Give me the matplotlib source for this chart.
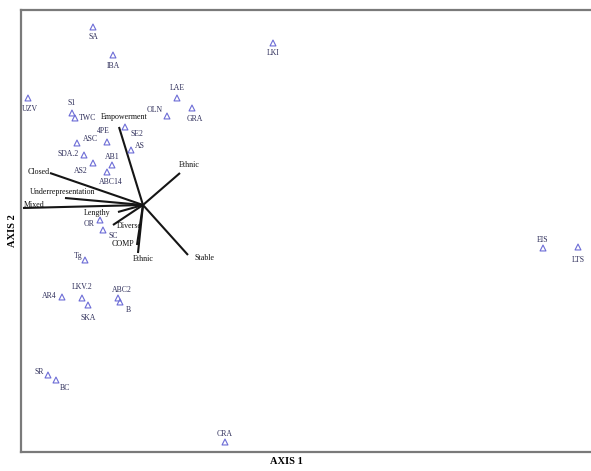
import matplotlib
matplotlib.use("Agg")
import matplotlib.pyplot as plt

plt.rcParams['font.family'] = ['Liberation Serif', 'DejaVu Serif']

# Site scores (axis 1, axis 2)
site_labels = ["SA", "IBA", "LKI", "LAE", "UZV", "S1", "TWC", "OLN", "GRA",
               "SE2", "4PE", "ASC", "AS", "SDA.2", "AB1", "AS2", "ABC14",
               "Tg", "OR", "SC", "AR4", "LKV.2", "SKA", "ABC2", "B",
               "SR", "BC", "CRA", "EIS", "LTS"]
site_x = [-0.50, -0.30, 1.30, 0.34, -1.15, -0.71, -0.68, 0.24, 0.49,
          -0.18, -0.36, -0.66, -0.12, -0.59, -0.31, -0.50, -0.36,
          -0.58, -0.43, -0.40, -0.81, -0.61, -0.55, -0.25, -0.23,
          -0.95, -0.87, 0.82, 4.00, 4.35]
site_y = [1.78, 1.50, 1.62, 1.07, 1.07, 0.92, 0.87, 0.89, 0.97,
          0.78, 0.63, 0.62, 0.55, 0.50, 0.40, 0.42, 0.33,
          -0.55, -0.15, -0.25, -0.92, -0.93, -1.00, -0.93, -0.97,
          -1.70, -1.75, -2.37, -0.43, -0.42]

# Environmental variable vectors (biplot arrows from the origin)
var_labels = ["Empowerment", "Ethnic", "Closed", "Underrepresentation", "Mixed",
              "Lengthy", "Diverse", "COMP", "Ethnic", "Stable"]
var_x = [-0.24, 0.37, -0.93, -0.78, -1.20, -0.25, -0.30, -0.06, -0.05, 0.45]
var_y = [0.78, 0.32, 0.32, 0.07, -0.03, -0.07, -0.20, -0.40, -0.48, -0.50]

# label placement (offset in points, horizontal alignment)
site_offsets = {
    "SA": (0, -7, "center"), "IBA": (0, -8, "center"), "LKI": (0, -7, "center"),
    "LAE": (0, 7, "center"), "UZV": (1, -8, "center"), "S1": (0, 7, "center"),
    "TWC": (3, 0, "left"), "OLN": (-3, 4, "right"), "GRA": (2, -8, "center"),
    "SE2": (4, -5, "left"), "4PE": (-3, 8, "center"), "ASC": (4, 3, "left"),
    "AS": (3, 3, "left"), "SDA.2": (-4, 1, "right"), "AB1": (0, 6, "center"),
    "AS2": (-4, -6, "right"), "ABC14": (3, -7, "center"), "Tg": (-2, 3, "right"),
    "OR": (-4, -3, "right"), "SC": (4, -4, "left"), "AR4": (-4, 1, "right"),
    "LKV.2": (0, 8, "center"), "SKA": (0, -9, "center"), "ABC2": (3, 6, "center"),
    "B": (4, -6, "left"), "SR": (-3, 2, "right"), "BC": (3, -6, "left"),
    "CRA": (0, 6, "center"), "EIS": (0, 6, "center"), "LTS": (0, -9, "center"),
}
var_offsets = [(4, 7, "center"), (7, 6, "center"), (-8, 1, "center"),
               (-2, 4, "center"), (8, 2, "center"), (-15, -1, "center"),
               (12, -1, "center"), (-10, 1, "center"), (4, -4, "center"),
               (12, -2, "center")]

fig = plt.figure(figsize=(5.91, 4.71), dpi=100)
ax = fig.add_axes([0.0355, 0.0403, 0.9645, 0.9385])
ax.set_xlim(-1.22, 4.48)
ax.set_ylim(-2.47, 1.95)

# vectors
for vx, vy, lab, (dx, dy, ha) in zip(var_x, var_y, var_labels, var_offsets):
    ax.plot([0, vx], [0, vy], color="#151515", lw=1.5, solid_capstyle="butt",
            zorder=2)
    ax.annotate(lab, (vx, vy), xytext=(dx, dy), textcoords="offset points",
                ha=ha, va="center", fontsize=5.8, color="#111111", zorder=4)

# sites
ax.scatter(site_x, site_y, marker="^", s=18, facecolors="none",
           edgecolors="#6c6cd6", linewidths=0.8, zorder=3)
for sx, sy, lab in zip(site_x, site_y, site_labels):
    dx, dy, ha = site_offsets[lab]
    ax.annotate(lab, (sx, sy), xytext=(dx, dy), textcoords="offset points",
                ha=ha, va="center", fontsize=5.6, color="#2e2e5a", zorder=4)

for side in ("left", "top", "bottom"):
    ax.spines[side].set_color("#7a7a7a")
    ax.spines[side].set_linewidth(1.6)
ax.spines["right"].set_visible(False)
ax.set_xticks([])
ax.set_yticks([])

ax.set_xlabel("AXIS 1", fontsize=7.5, fontweight="bold")
ax.xaxis.set_label_coords(0.466, -0.012, transform=ax.transAxes)
ax.xaxis.label.set_va("top")
ax.set_ylabel("AXIS 2", fontsize=7.5, fontweight="bold", labelpad=3)

fig.savefig("out.png", dpi=100)
